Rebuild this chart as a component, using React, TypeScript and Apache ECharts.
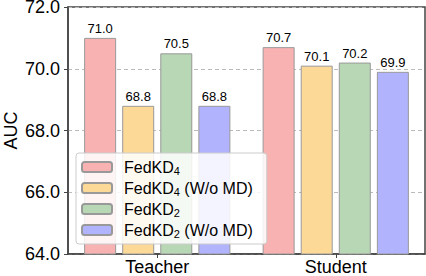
import React, { useEffect, useRef } from "react";
import * as echarts from "echarts";

const categories = ["Teacher", "Student"];
const seriesNames = ["FedKD4", "FedKD4 (W/o MD)", "FedKD2", "FedKD2 (W/o MD)"];
const fedkd4 = [71.0, 70.7];
const fedkd4NoMD = [68.8, 70.1];
const fedkd2 = [70.5, 70.2];
const fedkd2NoMD = [68.8, 69.9];
const colors = ["#F8B2B2", "#FDD998", "#B8D7B4", "#B1B3FD"];
const yTicks = [64, 66, 68, 70, 72];

const FONT = "Liberation Sans, Arial, Helvetica, sans-serif";

export default function App() {
  const ref = useRef<HTMLDivElement>(null);
  useEffect(() => {
    if (!ref.current) return;
    const chart = echarts.init(ref.current, undefined, { renderer: "svg" });
    const values = [fedkd4, fedkd4NoMD, fedkd2, fedkd2NoMD];
    chart.setOption({
      animation: false,
      textStyle: { fontFamily: FONT },
      grid: {
        left: 68,
        right: 1,
        top: 7,
        bottom: 22,
        containLabel: false,
        outerBoundsMode: "none",
        show: true,
        borderColor: "#444",
        borderWidth: 1.5,
        backgroundColor: "transparent",
      },
      legend: {
        orient: "vertical",
        left: 76,
        top: 153,
        padding: [6, 14, 5, 5],
        itemWidth: 30,
        itemHeight: 10,
        itemGap: 4,
        backgroundColor: "rgba(255,255,255,0.85)",
        borderColor: "#ccc",
        borderWidth: 1,
        borderRadius: 3,
        data: seriesNames,
        formatter: (name: string) => {
          const m = name.match(/^FedKD(\d)(.*)$/);
          if (!m) return name;
          return "{n|FedKD}{s|" + m[1] + "}{n|" + m[2] + "}";
        },
        textStyle: {
          padding: [0, 0, 0, 7],
          rich: {
            n: { fontSize: 16, lineHeight: 18, color: "#000", fontFamily: FONT },
            s: { fontSize: 11, lineHeight: 10, verticalAlign: "bottom", color: "#000", fontFamily: FONT },
          },
        },
      },
      xAxis: {
        type: "category",
        data: categories,
        axisLine: { show: true, lineStyle: { color: "#444", width: 1.5 } },
        axisTick: { show: true, alignWithLabel: true, length: 4, lineStyle: { color: "#444" } },
        axisLabel: { fontSize: 18, lineHeight: 18, color: "#000", margin: 4, fontFamily: FONT },
      },
      yAxis: {
        type: "value",
        min: yTicks[0],
        max: yTicks[yTicks.length - 1],
        interval: 2,
        name: "AUC",
        nameLocation: "middle",
        nameGap: 48,
        nameMoveOverlap: false,
        nameTextStyle: { fontSize: 18, color: "#000", fontFamily: FONT },
        axisLine: { show: true, lineStyle: { color: "#444", width: 1.5 } },
        axisTick: { show: true, length: 4, lineStyle: { color: "#444" } },
        axisLabel: {
          fontSize: 18,
          lineHeight: 12,
          padding: [2, 0, 0, 0],
          color: "#000",
          margin: 8,
          fontFamily: FONT,
          formatter: (v: number) => v.toFixed(1),
        },
        splitLine: { show: true, lineStyle: { color: "#bbb", type: [4, 3], width: 1 } },
      },
      series: seriesNames.map((name, i) => ({
        name,
        type: "bar",
        data: values[i],
        barWidth: 32,
        barGap: "19%",
        itemStyle: { color: colors[i], borderColor: "#999", borderWidth: 1 },
        label: {
          show: true,
          position: "top",
          distance: 3,
          fontSize: 13,
          color: "#000",
          fontFamily: FONT,
          formatter: (p: any) => Number(p.value).toFixed(1),
        },
      })),
    });
    return () => chart.dispose();
  }, []);
  return <div ref={ref} style={{ width: 426, height: 276, position: "absolute", left: 0, top: 0 }} />;
}
